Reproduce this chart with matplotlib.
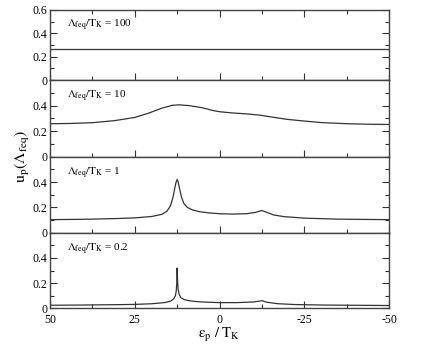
import numpy as np
import matplotlib
matplotlib.use("Agg")
import matplotlib.pyplot as plt
from matplotlib.ticker import MultipleLocator

plt.rcParams['font.family'] = 'Liberation Serif'
plt.rcParams['mathtext.fontset'] = 'stix'
plt.rcParams['axes.unicode_minus'] = False

# lambda_feq / T_K = 100
eps1 = [50, 25, 0, -25, -50]
u1 = [0.262, 0.262, 0.262, 0.262, 0.262]

# lambda_feq / T_K = 10
eps2 = [50, 44, 37.5, 31, 25, 21, 17, 14, 12, 9, 5, 2, 0, -4, -8, -12, -16, -20, -25, -30, -37.5, -44, -50]
u2 = [0.258, 0.260, 0.266, 0.282, 0.307, 0.34, 0.38, 0.402, 0.406, 0.40, 0.383, 0.362, 0.352, 0.342, 0.335, 0.325, 0.308, 0.292, 0.279, 0.267, 0.258, 0.254, 0.252]

# lambda_feq / T_K = 1
eps3 = [50, 40, 30, 25, 20, 17, 15.5, 14.5, 13.8, 13.2, 12.8, 12.5, 12.2, 11.8, 11.2, 10.5, 9.5, 8, 6, 3, 0,
        -4, -8, -10.5, -12.5, -14, -16, -19, -25, -35, -50]
u3 = [0.103, 0.106, 0.112, 0.117, 0.128, 0.145, 0.17, 0.21, 0.27, 0.35, 0.40, 0.42, 0.40, 0.35, 0.28, 0.23, 0.20, 0.18, 0.166, 0.156, 0.15,
      0.147, 0.15, 0.16, 0.175, 0.16, 0.14, 0.127, 0.115, 0.107, 0.103]

# lambda_feq / T_K = 0.2
eps4 = [50, 40, 30, 25, 20, 16, 14.5, 13.5, 13, 12.75, 12.6, 12.5, 12.35, 12.2, 11.9, 11.4, 10.5, 9, 7, 5, 0,
        -5, -10, -12.5, -14, -17, -22, -30, -50]
u4 = [0.024, 0.026, 0.029, 0.031, 0.036, 0.046, 0.056, 0.075, 0.10, 0.14, 0.20, 0.32, 0.21, 0.15, 0.11, 0.085, 0.07, 0.06, 0.054, 0.05, 0.045,
      0.045, 0.05, 0.06, 0.048, 0.037, 0.03, 0.026, 0.022]

labels = ['100', '10', '1', '0.2']
xticks = [50, 25, 0, -25, -50]
xticklabels = ['50', '25', '0', '-25', '-50']

fig = plt.figure(figsize=(4.36, 3.44), dpi=100)
gs = fig.add_gridspec(4, 1, left=50/436, right=389/436, top=1-10/344, bottom=1-308.3/344,
                      hspace=0, height_ratios=[70, 76.5, 76, 75.5])
axes = [fig.add_subplot(gs[i]) for i in range(4)]

data = [(eps1, u1), (eps2, u2), (eps3, u3), (eps4, u4)]
for i, ax in enumerate(axes):
    e, u = data[i]
    ax.plot(e, u, color='#333333', lw=0.9)
    ax.set_xlim(50, -50)
    ax.set_ylim(0, 0.6)
    ax.xaxis.set_major_locator(MultipleLocator(25))
    ax.xaxis.set_minor_locator(MultipleLocator(12.5))
    if i == 0:
        ax.set_yticks([0, 0.2, 0.4, 0.6])
        ax.set_yticklabels(['0', '0.2', '0.4', '0.6'])
    else:
        ax.set_yticks([0, 0.2, 0.4])
        ax.set_yticklabels(['0', '0.2', '0.4'])
    ax.yaxis.set_minor_locator(MultipleLocator(0.1))
    ax.tick_params(which='both', direction='in', right=True, top=(i == 0), labelsize=8.5)
    ax.tick_params(axis='y', pad=2)
    ax.tick_params(axis='x', pad=4)
    ax.tick_params(which='major', length=5, width=0.8, color='#333333')
    ax.tick_params(which='minor', length=2.8, width=0.8, color='#333333')
    for s in ax.spines.values():
        s.set_linewidth(1.0)
        s.set_color('#444444')
    if i < 3:
        ax.set_xticklabels([])
    else:
        ax.set_xticks(xticks)
        ax.set_xticklabels(xticklabels)
    ax.text(0.05, 0.78, r'$\mathrm{\Lambda_{feq}/T_K}$ = ' + labels[i],
            transform=ax.transAxes, fontsize=8, va='center', ha='left')

axes[3].set_xlabel(r'$\mathrm{\varepsilon_p\ /\ T_K}$', fontsize=10.5, labelpad=0)
fig.text(22/436, 1-157/344, r'$\mathrm{u_p(\Lambda_{feq})}$', rotation=90, fontsize=11.5,
         ha='center', va='center')

fig.savefig('out.png', dpi=100)
